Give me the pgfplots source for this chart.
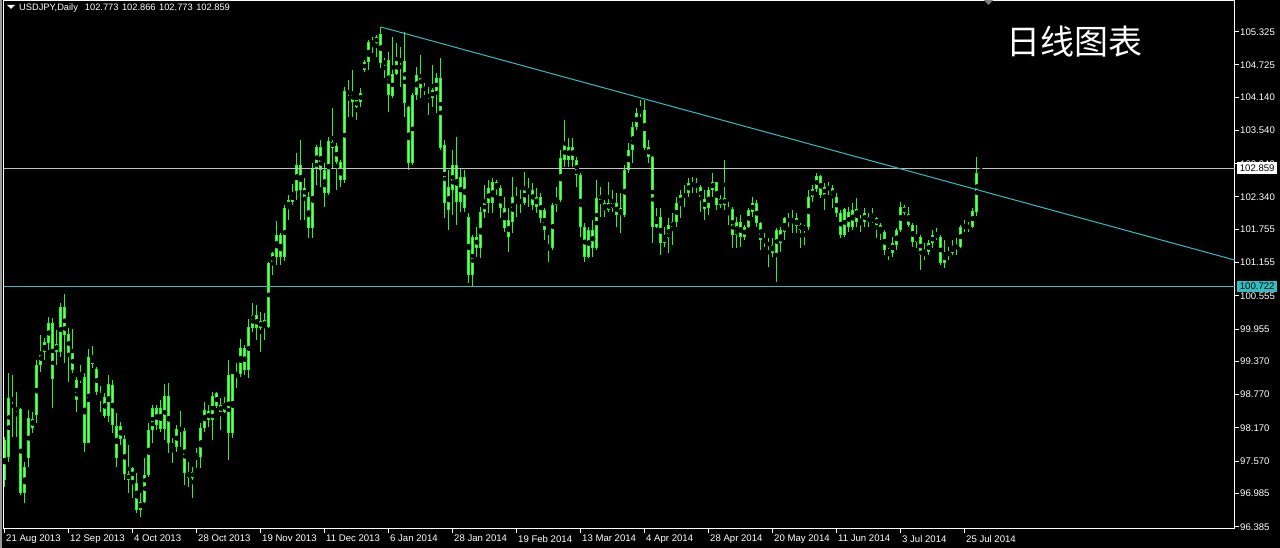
\documentclass[border=0pt]{standalone}
\usepackage{fontspec}
\setmainfont{Liberation Sans}
\newfontfamily\cjk{Noto Sans CJK SC}
\usepackage{pgfplots}
\usepackage{pgfplotstable}
\pgfplotsset{compat=1.18}
\definecolor{candle}{RGB}{40,245,40}
\definecolor{candlefill}{RGB}{115,250,115}
\definecolor{mtcyan}{RGB}{48,190,195}
\definecolor{mtgray}{RGB}{192,192,192}
\pgfplotstableread{
x o h l c
0 97.95 98.00 97.10 97.23
1 97.64 99.16 97.56 98.71
2 98.71 99.13 98.01 98.66
3 98.53 98.82 98.01 98.49
4 98.51 98.53 96.96 97.00
5 97.00 97.56 96.82 97.47
6 97.63 98.49 97.47 98.35
7 98.33 98.46 98.08 98.17
8 98.40 99.40 98.26 99.31
9 99.31 99.85 99.18 99.54
10 99.54 99.80 99.40 99.72
11 99.71 100.17 99.58 100.07
12 100.07 100.16 98.53 99.05
13 99.54 99.94 99.31 99.69
14 99.54 100.43 99.45 100.36
15 100.36 100.59 99.34 99.85
16 99.87 99.98 99.00 99.52
17 99.52 99.96 99.16 99.22
18 99.04 99.09 98.46 98.67
19 99.04 99.31 98.98 99.09
20 99.09 99.16 97.74 97.90
21 97.90 99.60 97.90 99.45
22 99.33 99.65 99.25 99.43
23 99.24 99.27 98.77 98.82
24 98.80 98.93 98.46 98.73
25 98.73 98.80 98.35 98.39
26 98.39 99.13 98.28 98.96
27 98.95 99.04 98.08 98.22
28 98.21 98.44 97.47 97.63
29 97.97 98.28 97.86 98.21
30 97.97 98.04 97.23 97.34
31 97.34 97.86 97.00 97.23
32 97.23 97.47 96.91 97.45
33 97.18 97.36 96.64 96.69
34 96.69 97.00 96.56 96.83
35 96.83 97.63 96.82 97.32
36 97.32 98.26 97.29 98.13
37 98.13 98.58 97.90 98.53
38 98.53 98.58 98.13 98.22
39 98.15 98.67 98.10 98.53
40 98.15 98.96 97.95 98.75
41 98.75 98.98 97.72 97.90
42 97.88 97.99 97.54 97.83
43 97.83 98.22 97.74 98.15
44 98.10 98.48 97.83 98.17
45 98.12 98.17 97.14 97.36
46 97.36 97.56 97.10 97.27
47 97.27 97.47 96.91 97.38
48 97.64 97.81 97.45 97.72
49 97.64 98.26 97.45 98.17
50 98.17 98.64 98.10 98.49
51 98.48 98.58 98.19 98.31
52 98.31 98.82 97.95 98.75
53 98.57 98.82 98.53 98.80
54 98.58 98.71 98.13 98.46
55 98.46 98.73 98.44 98.62
56 98.08 99.40 97.59 99.13
57 99.15 99.15 97.99 98.08
58 99.13 99.34 98.89 99.16
59 99.15 99.78 99.09 99.62
60 99.62 99.67 99.13 99.22
61 99.22 100.14 99.07 99.99
62 99.98 100.43 99.90 100.21
63 100.21 100.39 99.76 99.98
64 100.10 100.27 99.54 99.98
65 99.99 100.25 99.76 100.12
66 99.99 101.17 99.98 101.15
67 101.13 101.35 100.93 101.33
68 101.26 101.91 101.11 101.65
69 101.65 101.69 101.11 101.26
70 101.26 102.20 101.19 102.14
71 102.14 102.38 101.93 102.29
72 102.25 102.58 102.20 102.40
73 102.45 103.14 102.29 102.92
74 102.92 103.37 101.93 102.47
75 102.51 102.69 101.93 102.34
76 102.34 102.43 101.60 101.78
77 101.78 102.95 101.60 102.86
78 102.86 103.28 102.56 103.24
79 103.24 103.37 102.52 102.83
80 102.83 102.95 102.16 102.41
81 102.41 103.42 102.38 103.35
82 103.34 103.95 102.86 103.23
83 103.26 103.32 102.47 102.97
84 102.97 103.01 102.52 102.65
85 102.65 104.33 102.59 104.26
86 104.26 104.45 103.79 104.20
87 104.22 104.63 103.79 104.06
88 104.09 104.09 103.73 103.97
89 104.06 104.31 103.97 104.22
90 104.63 104.81 104.60 104.78
91 104.78 105.18 104.63 105.14
92 105.14 105.23 104.94 105.12
93 105.12 105.27 104.87 105.23
94 105.28 105.41 104.67 104.76
95 104.76 104.85 104.49 104.78
96 104.81 104.96 103.88 104.18
97 104.17 105.23 104.13 104.56
98 104.56 105.12 104.54 104.81
99 104.83 105.05 104.33 104.78
100 104.80 105.32 103.79 104.04
101 103.97 103.98 102.83 102.96
102 102.96 104.22 102.92 104.18
103 104.18 104.69 104.09 104.54
104 104.54 104.91 104.13 104.31
105 104.33 104.40 104.18 104.26
106 104.18 104.33 103.82 104.15
107 104.13 104.72 103.97 104.27
108 104.24 104.58 103.86 104.49
109 104.49 104.85 103.19 103.23
110 103.28 103.37 101.96 102.23
111 102.52 102.83 101.74 102.11
112 102.47 103.19 102.02 102.92
113 102.92 103.42 101.84 102.25
114 102.25 102.86 102.07 102.70
115 102.70 102.83 102.07 102.14
116 101.98 102.05 100.79 100.93
117 100.93 101.65 100.73 101.62
118 101.62 101.80 101.26 101.42
119 101.42 102.16 101.24 102.07
120 102.07 102.56 101.96 102.25
121 102.23 102.65 102.05 102.50
122 102.61 102.69 102.05 102.23
123 102.50 102.65 102.38 102.61
124 102.50 102.56 101.96 102.14
125 102.14 102.34 101.71 101.78
126 101.93 102.14 101.35 101.62
127 101.89 102.70 101.69 102.34
128 102.34 102.52 101.98 102.29
129 102.29 102.47 102.05 102.23
130 102.23 102.79 102.20 102.52
131 102.50 102.69 102.16 102.43
132 102.47 102.59 102.11 102.20
133 102.34 102.50 102.05 102.16
134 102.34 102.41 101.87 101.96
135 102.11 102.14 101.56 101.74
136 101.47 101.65 101.17 101.42
137 101.42 102.23 101.38 102.20
138 102.20 102.52 102.07 102.29
139 102.29 103.19 102.25 103.04
140 103.01 103.73 102.88 103.28
141 103.24 103.41 102.88 103.01
142 103.01 103.41 102.88 103.24
143 103.01 103.06 102.52 102.74
144 102.74 102.77 101.62 101.80
145 101.80 101.87 101.17 101.26
146 101.26 101.80 101.24 101.74
147 101.74 101.93 101.26 101.42
148 101.42 102.65 101.38 102.32
149 102.29 102.52 101.98 102.38
150 102.23 102.29 101.98 102.11
151 102.11 102.61 102.07 102.23
152 102.23 102.47 102.07 102.14
153 102.23 102.41 101.80 102.02
154 102.02 102.41 101.69 102.14
155 102.02 102.92 101.98 102.83
156 102.83 103.32 102.77 103.19
157 103.19 103.69 102.96 103.60
158 103.60 103.95 103.55 103.86
159 103.86 104.09 103.79 103.91
160 103.91 104.09 103.19 103.23
161 103.24 103.37 102.96 103.06
162 103.06 103.08 101.51 101.80
163 101.80 102.14 101.78 101.98
164 101.98 102.14 101.29 101.51
165 101.51 101.80 101.44 101.62
166 101.60 101.96 101.33 101.84
167 101.89 102.05 101.47 101.80
168 101.89 102.34 101.80 102.23
169 102.20 102.47 101.96 102.38
170 102.34 102.56 102.16 102.41
171 102.41 102.69 102.34 102.59
172 102.59 102.70 102.41 102.56
173 102.59 102.69 102.41 102.52
174 102.52 102.56 102.07 102.29
175 102.30 102.47 101.93 102.12
176 102.14 102.52 102.02 102.47
177 102.47 102.77 102.34 102.61
178 102.61 102.61 102.11 102.20
179 102.20 102.38 102.14 102.30
180 102.32 103.01 102.11 102.20
181 102.12 102.25 101.84 102.11
182 102.12 102.16 101.42 101.65
183 101.65 101.98 101.42 101.89
184 101.89 102.02 101.44 101.62
185 101.62 101.84 101.56 101.80
186 101.80 102.14 101.78 102.11
187 102.07 102.34 101.98 102.23
188 102.23 102.29 101.80 101.87
189 101.87 101.89 101.38 101.56
190 101.58 101.69 101.44 101.51
191 101.53 101.60 101.08 101.45
192 101.47 101.60 101.26 101.33
193 101.33 101.78 100.80 101.74
194 101.74 101.80 101.35 101.51
195 101.71 101.98 101.56 101.96
196 101.89 102.05 101.80 101.96
197 101.96 102.11 101.69 101.89
198 101.96 102.05 101.69 101.82
199 101.84 101.87 101.42 101.74
200 101.74 101.84 101.47 101.80
201 101.80 102.47 101.74 102.34
202 102.34 102.56 102.25 102.49
203 102.49 102.77 102.43 102.72
204 102.72 102.74 102.32 102.38
205 102.38 102.59 102.11 102.52
206 102.52 102.61 102.38 102.49
207 102.50 102.56 102.14 102.34
208 102.34 102.41 101.98 102.05
209 102.05 102.11 101.60 101.65
210 101.65 102.14 101.62 102.12
211 102.07 102.16 101.71 101.80
212 101.80 102.23 101.74 102.11
213 102.12 102.32 101.80 101.89
214 101.89 102.02 101.71 101.93
215 101.89 102.14 101.80 102.05
216 101.98 102.05 101.80 101.89
217 101.96 102.14 101.87 101.89
218 101.96 101.98 101.60 101.84
219 101.84 101.87 101.56 101.69
220 101.71 101.74 101.29 101.38
221 101.38 101.42 101.20 101.33
222 101.33 101.62 101.26 101.51
223 101.47 101.78 101.38 101.74
224 101.74 102.25 101.71 102.16
225 102.16 102.20 102.02 102.05
226 102.03 102.16 101.80 101.84
227 101.84 101.87 101.44 101.53
228 101.53 101.84 101.42 101.62
229 101.62 101.65 101.02 101.29
230 101.33 101.51 101.20 101.29
231 101.35 101.56 101.29 101.51
232 101.51 101.74 101.42 101.65
233 101.65 101.78 101.56 101.62
234 101.62 101.65 101.11 101.15
235 101.15 101.56 101.06 101.33
236 101.35 101.44 101.20 101.29
237 101.33 101.56 101.29 101.44
238 101.42 101.60 101.29 101.45
239 101.44 101.84 101.42 101.80
240 101.78 101.93 101.71 101.82
241 101.84 101.89 101.71 101.76
242 101.80 102.14 101.78 102.09
243 102.07 103.06 102.00 102.77
244 102.773 102.866 102.773 102.859
}\prices
\begin{document}
\begin{tikzpicture}[x=1pt,y=1pt]
\useasboundingbox (0,0) rectangle (1280,548);
\fill[black] (0,0) rectangle (1280,548);
\fill[black!40] (0,0) rectangle (2,548);
\begin{axis}[
  at={(4pt,19pt)}, anchor=south west,
  width=1231pt, height=528.5pt, scale only axis,
  xmin=-0.25, xmax=307.5, ymin=96.344, ymax=105.889,
  axis line style={white, line width=1pt},
  tick style={white, line width=1pt},
  tick align=outside, major tick length=4pt,
  xtick pos=bottom, ytick pos=right,
  xtick={0,16,...,240},
  xticklabels={21 Aug 2013,12 Sep 2013,4 Oct 2013,28 Oct 2013,19 Nov 2013,11 Dec 2013,6 Jan 2014,28 Jan 2014,19 Feb 2014,13 Mar 2014,4 Apr 2014,28 Apr 2014,20 May 2014,11 Jun 2014,3 Jul 2014,25 Jul 2014},
  ytick={96.385,96.985,97.570,98.170,98.770,99.370,99.955,100.555,101.155,101.755,102.340,102.940,103.540,104.140,104.725,105.325},
  yticklabels={96.385,96.985,97.570,98.170,98.770,99.370,99.955,100.555,101.155,101.755,102.340,102.940,103.540,104.140,104.725,105.325},
  ticklabel style={white, font=\fontsize{9.6}{11}\selectfont, inner sep=0pt},
  xticklabel style={anchor=north west, xshift=1pt, yshift=-2pt},
  yticklabel style={anchor=west, xshift=1pt},
]
% wicks
\addplot[only marks, mark=none, forget plot,
  error bars/.cd, y dir=both, y explicit, error mark=none,
  error bar style={candle, line width=1pt}]
  table[x=x, y expr={(\thisrow{h}+\thisrow{l})/2}, y error expr={(\thisrow{h}-\thisrow{l})/2}] {\prices};
% bodies (outline)
\addplot[only marks, mark=none, forget plot,
  error bars/.cd, y dir=both, y explicit, error mark=none,
  error bar style={candle, line width=3pt}]
  table[x=x, y expr={(\thisrow{o}+\thisrow{c})/2}, y error expr={max(abs(\thisrow{o}-\thisrow{c})/2,0.009)}] {\prices};
% bodies (fill)
\addplot[only marks, mark=none, forget plot,
  error bars/.cd, y dir=both, y explicit, error mark=none,
  error bar style={candlefill, line width=1pt}]
  table[x=x, y expr={(\thisrow{o}+\thisrow{c})/2}, y error expr={max(abs(\thisrow{o}-\thisrow{c})/2-0.018,0)}] {\prices};
% horizontal lines and trend line
\addplot[mtgray, line width=1pt] coordinates {(-0.25,102.859) (307.5,102.859)};
\addplot[mtcyan, line width=1pt] coordinates {(-0.25,100.722) (307.5,100.722)};
\addplot[mtcyan, line width=1pt] coordinates {(94,105.41) (307.5,101.20)};
\end{axis}
% price boxes
\node[fill=white, text=black, inner sep=0pt, minimum width=40pt, minimum height=11.5pt, anchor=west, font=\fontsize{9.6}{11}\selectfont] at (1237,379.8) {102.859};
\node[fill=mtcyan, text=black, inner sep=0pt, minimum width=40pt, minimum height=11.5pt, anchor=west, font=\fontsize{9.6}{11}\selectfont] at (1237,261.4) {100.722};
% header
\fill[white] (7,543) -- (15,543) -- (11,539) -- cycle;
\node[anchor=west, inner sep=0pt, text=white, font=\fontsize{9.3}{11}\selectfont] at (19,540) {USDJPY,Daily\hspace{7pt}102.773\hspace{3.5pt}102.866\hspace{3.5pt}102.773\hspace{3.5pt}102.859};
\fill[black!50] (984,548) -- (993,548) -- (988.5,543) -- cycle;
% title
\node[anchor=west, inner sep=0pt, text=white, font=\cjk\fontsize{34}{40}\selectfont] at (1006,506) {日线图表};
\end{tikzpicture}
\end{document}
